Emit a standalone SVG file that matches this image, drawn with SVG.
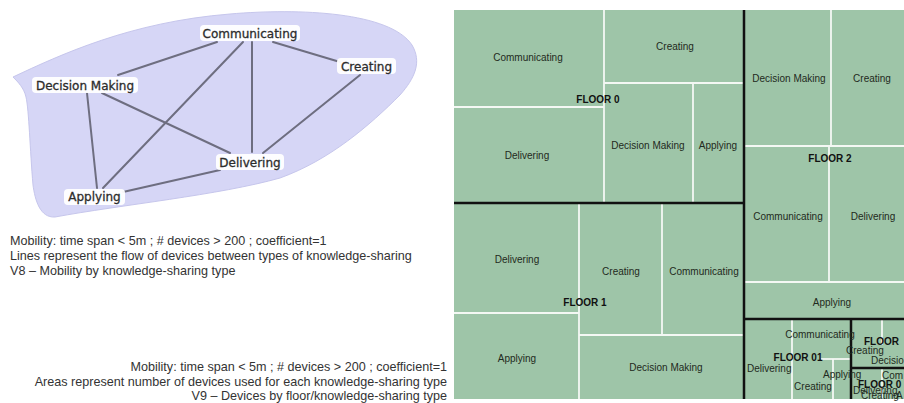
<svg xmlns="http://www.w3.org/2000/svg" width="904" height="403" viewBox="0 0 904 403">
<style>
.bg{fill:#ffffff}
.blob{fill:#d6d6f6;stroke:#c6c6ec;stroke-width:1}
.edge{stroke:#6e6e80;stroke-width:2;fill:none;stroke-linecap:round}
.lbox{fill:#ffffff;opacity:0.95}
.ntext{font-family:"DejaVu Sans",sans-serif;font-size:12px;fill:#2c2c2c;stroke:#2c2c2c;stroke-width:0.3;text-anchor:middle}
.cap{font-family:"Liberation Sans",Arial,sans-serif;font-size:12.6px;fill:#333333}
.capr{font-family:"Liberation Sans",Arial,sans-serif;font-size:12.6px;fill:#333333;text-anchor:end}
.cell{fill:#9ec5a8}
.wl{stroke:#f4f8f4;stroke-width:1.8;fill:none}
.bl{stroke:#111111;stroke-width:2.5;fill:none}
.t{font-family:"Liberation Sans",Arial,sans-serif;font-size:10px;fill:#1f2a20;text-anchor:middle}
.ts{font-family:"Liberation Sans",Arial,sans-serif;font-size:10px;fill:#1f2a20}
.f{font-family:"Liberation Sans",Arial,sans-serif;font-size:10px;font-weight:bold;fill:#111111;text-anchor:middle}
.fs{font-family:"Liberation Sans",Arial,sans-serif;font-size:10px;font-weight:bold;fill:#111111}
</style>
<rect class="bg" x="0" y="0" width="904" height="403"/>

<!-- V8 graph -->
<g id="v8-area">
<path class="blob" d="M13,77 C60,55 130,22 230,14 C300,8 390,12 412,45 C422,62 415,78 400,95 C370,125 330,160 280,178 C220,195 120,205 55,217 C40,218 35,200 33,185 C30,150 29,110 26,97 C24,88 18,82 13,77 Z"/>
</g>
<g id="connectors">
<line class="edge" x1="217" y1="42" x2="118" y2="75"/>
<line class="edge" x1="243" y1="42" x2="103" y2="188"/>
<line class="edge" x1="252" y1="42" x2="252" y2="152"/>
<line class="edge" x1="273" y1="42" x2="340" y2="62"/>
<line class="edge" x1="360" y1="75" x2="263" y2="153"/>
<line class="edge" x1="102" y1="93" x2="230" y2="153"/>
<line class="edge" x1="87" y1="93" x2="97" y2="188"/>
<line class="edge" x1="220" y1="170" x2="123" y2="192"/>
</g>
<g id="node-communicating">
<rect class="lbox" x="200" y="25" width="100" height="16" rx="4"/>
<text class="ntext" x="250" y="37.5">Communicating</text>
</g>
<g id="node-creating">
<rect class="lbox" x="337" y="58" width="59" height="16" rx="4"/>
<text class="ntext" x="366.5" y="70.5">Creating</text>
</g>
<g id="node-decision-making">
<rect class="lbox" x="32" y="77" width="106" height="16" rx="4"/>
<text class="ntext" x="85" y="89.5">Decision Making</text>
</g>
<g id="node-delivering">
<rect class="lbox" x="216" y="154" width="68" height="16" rx="4"/>
<text class="ntext" x="250" y="166.5">Delivering</text>
</g>
<g id="node-applying">
<rect class="lbox" x="64" y="189" width="61" height="16" rx="4"/>
<text class="ntext" x="94.5" y="201">Applying</text>
</g>

<g id="v8-caption">
<text class="cap" x="10" y="244.5">Mobility: time span &lt; 5m ; # devices &gt; 200 ; coefficient=1</text>
<text class="cap" x="10" y="259.5">Lines represent the flow of devices between types of knowledge-sharing</text>
<text class="cap" x="10" y="274.5">V8 – Mobility by knowledge-sharing type</text>
</g>
<g id="v9-caption">
<text class="capr" x="447" y="370.5">Mobility: time span &lt; 5m ; # devices &gt; 200 ; coefficient=1</text>
<text class="capr" x="447" y="385.5">Areas represent number of devices used for each knowledge-sharing type</text>
<text class="capr" x="447" y="399.5">V9 – Devices by floor/knowledge-sharing type</text>
</g>

<!-- V9 treemap -->
<g id="treemap">
<rect class="cell" x="454" y="10" width="450" height="389"/>
<g id="floor0-lines">
<line class="wl" x1="604" y1="10" x2="604" y2="203"/>
<line class="wl" x1="454" y1="107" x2="604" y2="107"/>
<line class="wl" x1="604" y1="83" x2="744" y2="83"/>
<line class="wl" x1="693" y1="83" x2="693" y2="203"/>
</g>
<g id="floor2-lines">
<line class="wl" x1="831" y1="10" x2="831" y2="146"/>
<line class="wl" x1="744" y1="146" x2="904" y2="146"/>
<line class="wl" x1="829" y1="146" x2="829" y2="282"/>
<line class="wl" x1="744" y1="282" x2="904" y2="282"/>
</g>
<g id="floor1-lines">
<line class="wl" x1="579" y1="203" x2="579" y2="399"/>
<line class="wl" x1="454" y1="313" x2="579" y2="313"/>
<line class="wl" x1="579" y1="335" x2="744" y2="335"/>
<line class="wl" x1="662" y1="203" x2="662" y2="335"/>
</g>
<g id="floor01-lines">
<line class="wl" x1="792" y1="320" x2="792" y2="399"/>
<line class="wl" x1="821" y1="359" x2="851" y2="359"/>
<line class="wl" x1="833" y1="359" x2="833" y2="399"/>
<line class="wl" x1="882" y1="320" x2="882" y2="345"/>
<line class="wl" x1="882" y1="368" x2="882" y2="399"/>
</g>
<g id="floor-borders">
<line class="bl" x1="744" y1="10" x2="744" y2="399"/>
<line class="bl" x1="454" y1="203" x2="744" y2="203"/>
<line class="bl" x1="744" y1="319" x2="904" y2="319"/>
<line class="bl" x1="851" y1="319" x2="851" y2="399"/>
<line class="bl" x1="851" y1="368" x2="904" y2="368"/>
</g>
<g id="floor0">
<text class="t" x="528" y="60.5">Communicating</text>
<text class="t" x="675" y="49.5">Creating</text>
<text class="t" x="527" y="158.5">Delivering</text>
<text class="t" x="648" y="148.5">Decision Making</text>
<text class="t" x="718" y="148.5">Applying</text>
<text class="f" x="598" y="102.5">FLOOR 0</text>
</g>
<g id="floor2">
<text class="t" x="789" y="81.5">Decision Making</text>
<text class="t" x="872" y="81.5">Creating</text>
<text class="t" x="788" y="219.5">Communicating</text>
<text class="t" x="873" y="219.5">Delivering</text>
<text class="t" x="832" y="305.5">Applying</text>
<text class="f" x="830" y="161.5">FLOOR 2</text>
</g>
<g id="floor1">
<text class="t" x="517" y="262.5">Delivering</text>
<text class="t" x="621" y="274.5">Creating</text>
<text class="t" x="704" y="274.5">Communicating</text>
<text class="t" x="517" y="361.5">Applying</text>
<text class="t" x="666" y="370.5">Decision Making</text>
<text class="f" x="585" y="305.5">FLOOR 1</text>
</g>
<g id="floor01">
<text class="t" x="820" y="338">Communicating</text>
<text class="f" x="798" y="360.5">FLOOR 01</text>
<text class="ts" x="747" y="371.5">Delivering</text>
<text class="t" x="813" y="389.5">Creating</text>
<text class="ts" x="823" y="377.5">Applying</text>
</g>
<g id="floor-upper-small">
<text class="fs" x="864" y="344.5">FLOOR</text>
<text class="ts" x="846" y="353.5">Creating</text>
<text class="ts" x="871" y="363.5">Decisio</text>
</g>
<g id="floor-lower-small">
<text class="ts" x="882" y="378.5">Com</text>
<text class="fs" x="858" y="387.5">FLOOR 0</text>
<text class="ts" x="853" y="393.5">Delivering</text>
<text class="ts" x="861" y="398.5">Creating</text>
<text class="ts" x="896" y="398.5">A</text>
</g>
</g>
</svg>
